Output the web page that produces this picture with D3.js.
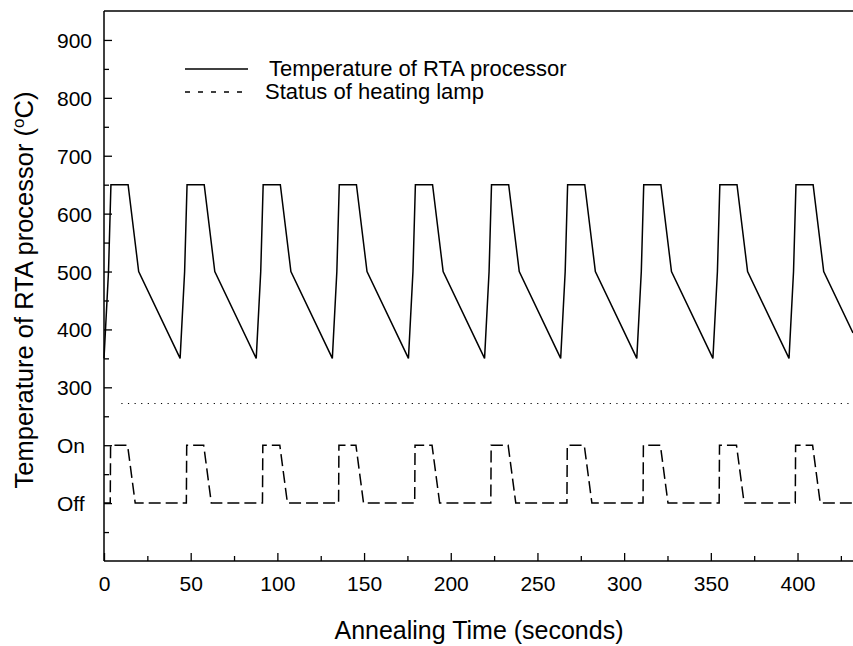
<!DOCTYPE html>
<html>
<head>
<meta charset="utf-8">
<script src="https://cdn.jsdelivr.net/npm/d3@7/dist/d3.min.js"></script>
<style>
  html, body { margin: 0; padding: 0; background: #fff; }
  svg { display: block; font-family: "Liberation Sans", Arial, sans-serif; }
</style>
</head>
<body>
<svg id="chart" width="853" height="646"></svg>
<script>
// Annealing time (s) and RTA processor temperature (°C)
const timeSec = [
  0, 2.6, 4.0, 13.9, 20.0,
  43.9, 46.5, 47.9, 57.8, 63.9,
  87.8, 90.4, 91.8, 101.7, 107.8,
  131.7, 134.3, 135.7, 145.6, 151.7,
  175.6, 178.2, 179.6, 189.5, 195.6,
  219.5, 222.1, 223.5, 233.4, 239.5,
  263.4, 266.0, 267.4, 277.3, 283.4,
  307.3, 309.9, 311.3, 321.2, 327.3,
  351.2, 353.8, 355.2, 365.1, 371.2,
  395.1, 397.7, 399.1, 409.0, 415.1,
  432
];
const tempC = [
  350, 500, 650, 650, 500,
  350, 500, 650, 650, 500,
  350, 500, 650, 650, 500,
  350, 500, 650, 650, 500,
  350, 500, 650, 650, 500,
  350, 500, 650, 650, 500,
  350, 500, 650, 650, 500,
  350, 500, 650, 650, 500,
  350, 500, 650, 650, 500,
  350, 500, 650, 650, 500,
  394
];

// Heating lamp status (0 = Off, 1 = On)
const lampTime = [
  0,
  3.6, 3.8, 13.6, 18.0,
  47.5, 47.7, 57.5, 61.9,
  91.4, 91.6, 101.4, 105.8,
  135.3, 135.5, 145.3, 149.7,
  179.2, 179.4, 189.2, 193.6,
  223.1, 223.3, 233.1, 237.5,
  267.0, 267.2, 277.0, 281.4,
  310.9, 311.1, 320.9, 325.3,
  354.8, 355.0, 364.8, 369.2,
  398.7, 398.9, 408.7, 413.1,
  432
];
const lampState = [
  0,
  0, 1, 1, 0,
  0, 1, 1, 0,
  0, 1, 1, 0,
  0, 1, 1, 0,
  0, 1, 1, 0,
  0, 1, 1, 0,
  0, 1, 1, 0,
  0, 1, 1, 0,
  0, 1, 1, 0,
  0, 1, 1, 0,
  0
];
// vertical positions of the lamp levels on the shared axis
const lampLevels = [100, 200];
const lampLabels = ["Off", "On"];

// dotted separator between temperature and lamp panels
const separatorValue = 272;
const separatorStart = 10;

const xMajorTicks = [0, 50, 100, 150, 200, 250, 300, 350, 400];
const xMinorTicks = [25, 75, 125, 175, 225, 275, 325, 375, 425];
const yMajorTicks = [300, 400, 500, 600, 700, 800, 900];
const yMinorTicks = [50, 150, 250, 350, 450, 550, 650, 750, 850];

const xTitle = "Annealing Time (seconds)";
const legendItems = ["Temperature of RTA processor", "Status of heating lamp"];

const svg = d3.select("#chart");
const plotLeft = 104, plotRight = 853, plotTop = 11, plotBottom = 561;

const x = d3.scaleLinear().domain([0, 432]).range([plotLeft, plotRight]);
const y = d3.scaleLinear().domain([0, 950]).range([plotBottom, plotTop]);

const ink = "#000";

// top frame line
svg.append("line")
  .attr("x1", plotLeft).attr("x2", plotRight).attr("y1", plotTop).attr("y2", plotTop)
  .attr("stroke", ink).attr("stroke-width", 1.5);

// x axis: inward ticks
const gx = svg.append("g").attr("transform", `translate(0,${plotBottom})`);
gx.call(d3.axisBottom(x).tickValues(xMajorTicks).tickSizeInner(-8).tickSizeOuter(0).tickPadding(0).tickFormat(d3.format("d")));
gx.append("g").call(d3.axisBottom(x).tickValues(xMinorTicks).tickSizeInner(-5).tickSizeOuter(0).tickFormat(""))
  .select(".domain").remove();
gx.selectAll(".domain").attr("stroke", ink).attr("stroke-width", 1.5).attr("d", `M${plotLeft},0H${plotRight}`);
gx.selectAll(".tick line").attr("stroke", ink).attr("stroke-width", 1.3);
gx.selectAll(".tick text")
  .attr("y", 30).attr("dy", null)
  .attr("font-size", 21).attr("fill", ink)
  .attr("font-family", "Liberation Sans, Arial, sans-serif");

// y axis: inward ticks, numeric labels for temperature, On/Off for lamp
const gy = svg.append("g").attr("transform", `translate(${plotLeft},0)`);
gy.call(d3.axisLeft(y).tickValues(yMajorTicks.concat(lampLevels)).tickSizeInner(-8).tickSizeOuter(0).tickFormat(""));
gy.append("g").call(d3.axisLeft(y).tickValues(yMinorTicks).tickSizeInner(-5).tickSizeOuter(0).tickFormat(""))
  .select(".domain").remove();
gy.selectAll(".domain").attr("stroke", ink).attr("stroke-width", 1.5).attr("d", `M0,${plotTop}V${plotBottom}`);
gy.selectAll(".tick line").attr("stroke", ink).attr("stroke-width", 1.3);

const labelFont = 21;
svg.append("g").selectAll("text").data(yMajorTicks).join("text")
  .attr("x", plotLeft - 12).attr("y", d => y(d) + 8)
  .attr("text-anchor", "end").attr("font-size", labelFont).attr("fill", ink)
  .text(d => d);
svg.append("g").selectAll("text").data(lampLevels).join("text")
  .attr("x", 57).attr("y", d => y(d) + 8)
  .attr("text-anchor", "start").attr("font-size", labelFont).attr("fill", ink)
  .text((d, i) => lampLabels[i]);

// axis titles
svg.append("text")
  .attr("x", 479).attr("y", 639)
  .attr("text-anchor", "middle").attr("font-size", 25).attr("fill", ink)
  .text(xTitle);

const yt = svg.append("text")
  .attr("transform", "translate(33,290) rotate(-90)")
  .attr("text-anchor", "middle").attr("font-size", 25.5).attr("fill", ink);
yt.append("tspan").text("Temperature of RTA processor (");
yt.append("tspan").attr("baseline-shift", "super").attr("font-size", 17).text("o");
yt.append("tspan").text("C)");

// temperature curve
const tempLine = d3.line().x((d, i) => x(timeSec[i])).y(d => y(d));
svg.append("path")
  .datum(tempC)
  .attr("d", tempLine)
  .attr("fill", "none").attr("stroke", ink).attr("stroke-width", 1.5)
  .attr("stroke-linejoin", "miter");

// dotted separator
svg.append("line")
  .attr("x1", x(separatorStart)).attr("x2", plotRight)
  .attr("y1", y(separatorValue)).attr("y2", y(separatorValue))
  .attr("stroke", ink).attr("stroke-width", 1)
  .attr("stroke-dasharray", "1.2,5.4");

// lamp status trace
const lampLine = d3.line().x((d, i) => x(lampTime[i])).y(d => y(lampLevels[d]));
svg.append("path")
  .datum(lampState)
  .attr("d", lampLine)
  .attr("fill", "none").attr("stroke", ink).attr("stroke-width", 1.5)
  .attr("stroke-dasharray", "12,5");

// legend
const legendFont = 22;
const legend = svg.append("g");
const legendRows = [69, 92];
legend.append("line")
  .attr("x1", 185).attr("x2", 248).attr("y1", legendRows[0]).attr("y2", legendRows[0])
  .attr("stroke", ink).attr("stroke-width", 1.5);
legend.append("line")
  .attr("x1", 185).attr("x2", 248).attr("y1", legendRows[1]).attr("y2", legendRows[1])
  .attr("stroke", ink).attr("stroke-width", 1.5)
  .attr("stroke-dasharray", "5,8");
legend.append("text")
  .attr("x", 269).attr("y", legendRows[0] + 7)
  .attr("font-size", legendFont).attr("fill", ink).text(legendItems[0]);
legend.append("text")
  .attr("x", 265).attr("y", legendRows[1] + 7)
  .attr("font-size", legendFont).attr("fill", ink).text(legendItems[1]);
</script>
</body>
</html>
